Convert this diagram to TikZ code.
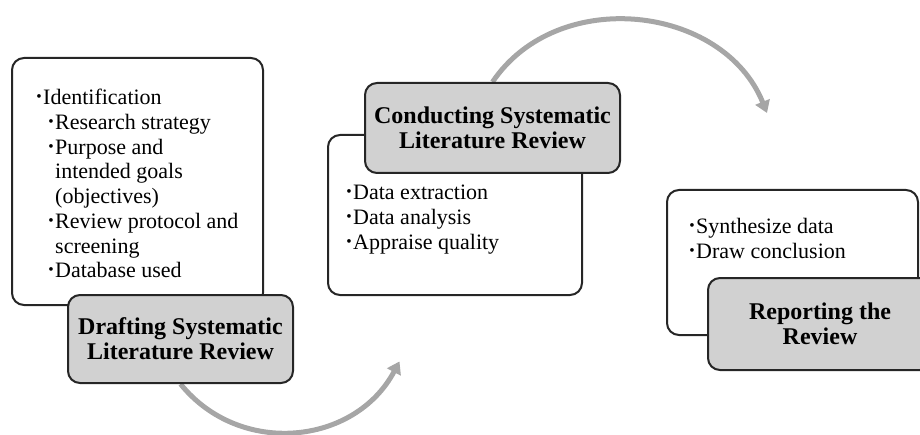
\documentclass[tikz,border=0pt]{standalone}
\usepackage{fontspec}
\setmainfont{Liberation Serif}
\usetikzlibrary{arrows.meta, backgrounds}
\tikzset{>=stealth}
\definecolor{boxgray}{gray}{0.82}
\definecolor{arcgray}{gray}{0.65}
\newcommand{\bul}{\makebox[3.4pt][l]{\raisebox{0.3ex}{\scalebox{0.7}{\textbullet}}}}
\tikzstyle{whitebox} = [rectangle, rounded corners = 6pt, draw = black!85, line width = 1pt, fill = white]
\tikzstyle{graybox} = [whitebox, fill = boxgray, align = center, inner sep = 2pt, font = \fontsize{12}{12.5}\selectfont\bfseries]
\tikzstyle{itemlist} = [align = left, anchor = north west, inner sep = 0pt, font = \fontsize{11}{12.35}\selectfont]
\tikzstyle{arcarrow} = [draw = arcgray, line width = 2.5pt, -{Triangle[length = 6pt, width = 7.5pt]}]

\begin{document}
\begin{tikzpicture}[x = 0.5pt, y = 0.5pt]
\useasboundingbox (0,0) rectangle (920,434);
\clip (0,0) rectangle (920,434);

\node (draftbox) [whitebox, minimum width = 125.5pt, minimum height = 123.5pt] at (137.5,252.5) {};
\node (conductbox) [whitebox, minimum width = 127pt, minimum height = 80pt] at (455,219) {};
\node (reportbox) [whitebox, minimum width = 125.5pt, minimum height = 72.5pt] at (792.5,171.5) {};

\node (draftlist) [itemlist] at (36,345) {\bul Identification\\
\hspace*{6pt}\bul Research strategy\\
\hspace*{6pt}\bul Purpose and\\
\hspace*{9.4pt}intended goals\\
\hspace*{9.4pt}(objectives)\\
\hspace*{6pt}\bul Review protocol and\\
\hspace*{9.4pt}screening\\
\hspace*{6pt}\bul Database used};
\node (conductlist) [itemlist] at (346,249) {\bul Data extraction\\ \bul Data analysis\\ \bul Appraise quality};
\node (reportlist) [itemlist] at (689,216) {\bul Synthesize data\\ \bul Draw conclusion};

\node (drafting) [graybox, minimum width = 112.5pt, minimum height = 44pt] at (180.5,95) {Drafting Systematic\\Literature Review};
\node (conducting) [graybox, minimum width = 127.5pt, minimum height = 45pt] at (492.5,306) {Conducting Systematic\\Literature Review};
\node (reporting) [graybox, minimum width = 112pt, minimum height = 46pt] at (820,110) {Reporting the\\Review};

\coordinate (conductIn) at (399.5,72.6);
\coordinate (reportIn) at (767,321);

\begin{scope}[on background layer]
\draw [arcarrow] (drafting.south) to [out = -51, in = 242, looseness = 1.1] (conductIn);
\draw [arcarrow] (conducting.north) to [out = 56, in = 112, looseness = 1.08] (reportIn);
\end{scope}
\end{tikzpicture}
\end{document}
